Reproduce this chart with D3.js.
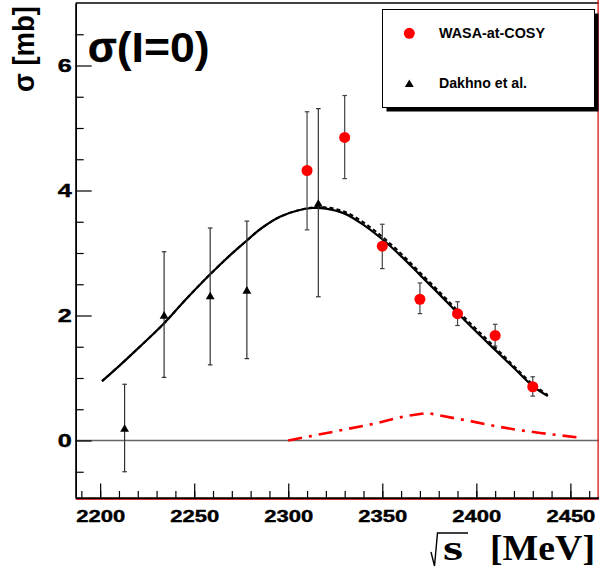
<!DOCTYPE html>
<html><head><meta charset="utf-8">
<script src="https://cdn.jsdelivr.net/npm/d3@7"></script>
<style>body{margin:0;background:#fff}svg{display:block}</style>
</head><body>
<script>
// ---- data ----
const wasaX   = [2310, 2330, 2350, 2370, 2390, 2410, 2430];
const wasaY   = [4.32, 4.85, 3.11, 2.26, 2.03, 1.68, 0.86];
const wasaLo  = [3.37, 4.19, 2.75, 2.03, 1.84, 1.51, 0.71];
const wasaHi  = [5.26, 5.52, 3.46, 2.52, 2.22, 1.86, 1.02];

const dakX    = [2213, 2234, 2258.5, 2278, 2316];
const dakY    = [0.18, 1.99, 2.30, 2.39, 3.78];
const dakLo   = [-0.50, 1.01, 1.21, 1.31, 2.30];
const dakHi   = [0.90, 3.02, 3.40, 3.51, 5.31];

const fitX    = [2201, 2210, 2220, 2233.5, 2245, 2258.5, 2270, 2278, 2285, 2295.6, 2305, 2313, 2320, 2330, 2340, 2350, 2360, 2370, 2380, 2390, 2400, 2410, 2420, 2430, 2438];
const fitY    = [0.95, 1.19, 1.47, 1.86, 2.24, 2.66, 2.99, 3.20, 3.38, 3.58, 3.68, 3.72, 3.71, 3.63, 3.45, 3.22, 2.95, 2.65, 2.35, 2.04, 1.74, 1.45, 1.16, 0.87, 0.71];
const fit2Y   = [0.95, 1.19, 1.47, 1.86, 2.24, 2.66, 2.99, 3.20, 3.38, 3.58, 3.68, 3.73, 3.73, 3.66, 3.49, 3.26, 2.99, 2.69, 2.39, 2.08, 1.78, 1.49, 1.19, 0.90, 0.73];

const redX    = [2300, 2312, 2329, 2346, 2362, 2374, 2386, 2397, 2410, 2422, 2434, 2454];
const redY    = [0.00, 0.07, 0.17, 0.27, 0.39, 0.44, 0.37, 0.31, 0.23, 0.17, 0.12, 0.05];

const xMajor  = [2200, 2250, 2300, 2350, 2400, 2450];
const xMinor  = d3.range(2190, 2461, 10);
const yMajor  = [0, 2, 4, 6];
const yMinor  = [-0.5, 0.5, 1, 1.5, 2.5, 3, 3.5, 4.5, 5, 5.5, 6.5];

const W = 599, H = 574;
const L = 75.7, R = 598.6, T = 3, B = 498;

const svg = d3.select("body").append("svg").attr("width", W).attr("height", H);

const x = d3.scaleLinear().domain([2187, 2465]).range([L, R]);
const y = d3.scaleLinear().domain([-0.92, 7.0]).range([B, T]);

const bold = "'Liberation Sans', Arial, Helvetica, sans-serif";

// zero line
svg.append("line").attr("x1", L).attr("x2", R).attr("y1", y(0)).attr("y2", y(0))
  .attr("stroke", "#666").attr("stroke-width", 1.6);

// frame (top black, right red, bottom red under axis)
svg.append("line").attr("x1", L).attr("x2", R).attr("y1", T).attr("y2", T).attr("stroke", "#000").attr("stroke-width", 1.5);
svg.append("line").attr("x1", R-0.5).attr("x2", R-0.5).attr("y1", 0).attr("y2", B+1.5).attr("stroke", "#e00000").attr("stroke-width", 1.2);
svg.append("line").attr("x1", L).attr("x2", R).attr("y1", B+1.3).attr("y2", B+1.3).attr("stroke", "#c00000").attr("stroke-width", 1);

// axes
const gx = svg.append("g").attr("transform", `translate(0,${B-0.3})`);
gx.call(d3.axisBottom(x).tickValues(xMinor).tickSize(-6.7).tickSizeOuter(0).tickFormat(""));
const gxM = svg.append("g").attr("transform", `translate(0,${B-0.3})`);
gxM.call(d3.axisBottom(x).tickValues(xMajor).tickSize(-14.3).tickSizeOuter(0).tickPadding(12).tickFormat(d3.format("d")));
const gy = svg.append("g").attr("transform", `translate(${L},0)`);
gy.call(d3.axisLeft(y).tickValues(yMinor).tickSize(-8).tickSizeOuter(0).tickFormat(""));
const gyM = svg.append("g").attr("transform", `translate(${L},0)`);
gyM.call(d3.axisLeft(y).tickValues(yMajor).tickSize(-16).tickSizeOuter(0).tickPadding(4).tickFormat(d3.format("d")));

svg.selectAll(".domain").attr("stroke", "#000").attr("stroke-width", 1.5);
svg.selectAll(".tick line").attr("stroke", "#000").attr("stroke-width", 1.2);
gxM.selectAll(".tick text").attr("font-family", bold).attr("font-weight", "bold").attr("font-size", 16.5)
  .attr("fill", "#000").attr("stroke", "#000").attr("stroke-width", 0.4)
  .attr("dy", "0").attr("y", 24.2).attr("textLength", 49).attr("lengthAdjust", "spacingAndGlyphs");
gyM.selectAll(".tick text").attr("font-family", bold).attr("font-weight", "bold").attr("font-size", 17.5)
  .attr("fill", "#000").attr("stroke", "#000").attr("stroke-width", 0.4)
  .attr("dy", "0.36em").attr("x", -4).attr("textLength", 14).attr("lengthAdjust", "spacingAndGlyphs");

// curves
const line = d3.line().curve(d3.curveCatmullRom.alpha(0.5));
svg.append("path").datum(fitX.map((v, i) => [x(v), y(fit2Y[i])]))
  .attr("d", line).attr("fill", "none").attr("stroke", "#000").attr("stroke-width", 2).attr("stroke-dasharray", "4,3");
svg.append("path").datum(fitX.map((v, i) => [x(v), y(fitY[i])]))
  .attr("d", line).attr("fill", "none").attr("stroke", "#000").attr("stroke-width", 2.2);
svg.append("path").datum(redX.map((v, i) => [x(v), y(redY[i])]))
  .attr("d", d3.line()).attr("fill", "none").attr("stroke", "#ff0000").attr("stroke-width", 2.6)
  .attr("stroke-dasharray", "14,7,3,7");

// error bars
function errBars(xs, lo, hi, col) {
  const g = svg.append("g").attr("stroke", col).attr("stroke-width", 1.2);
  xs.forEach((v, i) => {
    const cx = x(v);
    g.append("line").attr("x1", cx).attr("x2", cx).attr("y1", y(lo[i])).attr("y2", y(hi[i]));
    g.append("line").attr("x1", cx-2.3).attr("x2", cx+2.3).attr("y1", y(lo[i])).attr("y2", y(lo[i]));
    g.append("line").attr("x1", cx-2.3).attr("x2", cx+2.3).attr("y1", y(hi[i])).attr("y2", y(hi[i]));
  });
}
errBars(dakX, dakLo, dakHi, "#333");
errBars(wasaX, wasaLo, wasaHi, "#444");

const tri = d3.symbol().type(d3.symbolTriangle).size(34);
svg.append("g").selectAll("path").data(dakX).join("path")
  .attr("d", tri).attr("transform", (d, i) => `translate(${x(d)},${y(dakY[i])})`).attr("fill", "#000");
svg.append("g").selectAll("circle").data(wasaX).join("circle")
  .attr("cx", d => x(d)).attr("cy", (d, i) => y(wasaY[i])).attr("r", 5.5).attr("fill", "#ff0000");

// title
const title = svg.append("text").attr("x", 88).attr("y", 62).attr("font-family", bold).attr("font-size", 42).attr("fill", "#000");
title.append("tspan").attr("font-weight", "bold").attr("stroke", "#000").attr("stroke-width", 0.6).text("σ");
title.append("tspan").attr("font-weight", "bold").attr("textLength", 93).attr("lengthAdjust", "spacingAndGlyphs").text("(I=0)");

// y label
svg.append("text").attr("transform", "translate(33.5,92) rotate(-90)").attr("font-family", bold)
  .attr("font-size", 29).attr("font-weight", "bold").attr("fill", "#000")
  .attr("textLength", 86).attr("lengthAdjust", "spacingAndGlyphs")
  .text("σ [mb]");

// x label: sqrt(s) [MeV]
svg.append("path").attr("d", "M431,552 L434.5,566 L437.5,533 L468,533").attr("fill", "none")
  .attr("stroke", "#000").attr("stroke-width", 1.4);
svg.append("text").attr("x", 443).attr("y", 560).attr("font-family", "'Liberation Serif', 'Times New Roman', serif")
  .attr("font-size", 36).attr("font-weight", "bold").attr("fill", "#000")
  .attr("textLength", 20).attr("lengthAdjust", "spacingAndGlyphs").text("s");
svg.append("text").attr("x", 490).attr("y", 560).attr("font-family", "'Liberation Serif', 'Times New Roman', serif")
  .attr("font-size", 36).attr("font-weight", "bold").attr("fill", "#000")
  .attr("textLength", 105).attr("lengthAdjust", "spacingAndGlyphs").text("[MeV]");

// legend
const lg = svg.append("g");
lg.append("rect").attr("x", 386.5).attr("y", 13.5).attr("width", 212).attr("height", 98).attr("fill", "#000");
lg.append("rect").attr("x", 382.5).attr("y", 9.5).attr("width", 212).attr("height", 98).attr("fill", "#fff")
  .attr("stroke", "#000").attr("stroke-width", 1);
lg.append("circle").attr("cx", 409.3).attr("cy", 33.3).attr("r", 5.5).attr("fill", "#ff0000");
lg.append("path").attr("d", tri).attr("transform", "translate(409.3,84.5)").attr("fill", "#000");
lg.append("text").attr("x", 439).attr("y", 38).attr("font-family", bold).attr("font-weight", "bold")
  .attr("font-size", 14).attr("fill", "#000").attr("textLength", 106).attr("lengthAdjust", "spacingAndGlyphs").text("WASA-at-COSY");
lg.append("text").attr("x", 439).attr("y", 88).attr("font-family", bold).attr("font-weight", "bold")
  .attr("font-size", 14).attr("fill", "#000").attr("textLength", 88).attr("lengthAdjust", "spacingAndGlyphs").text("Dakhno et al.");
</script>
</body></html>
